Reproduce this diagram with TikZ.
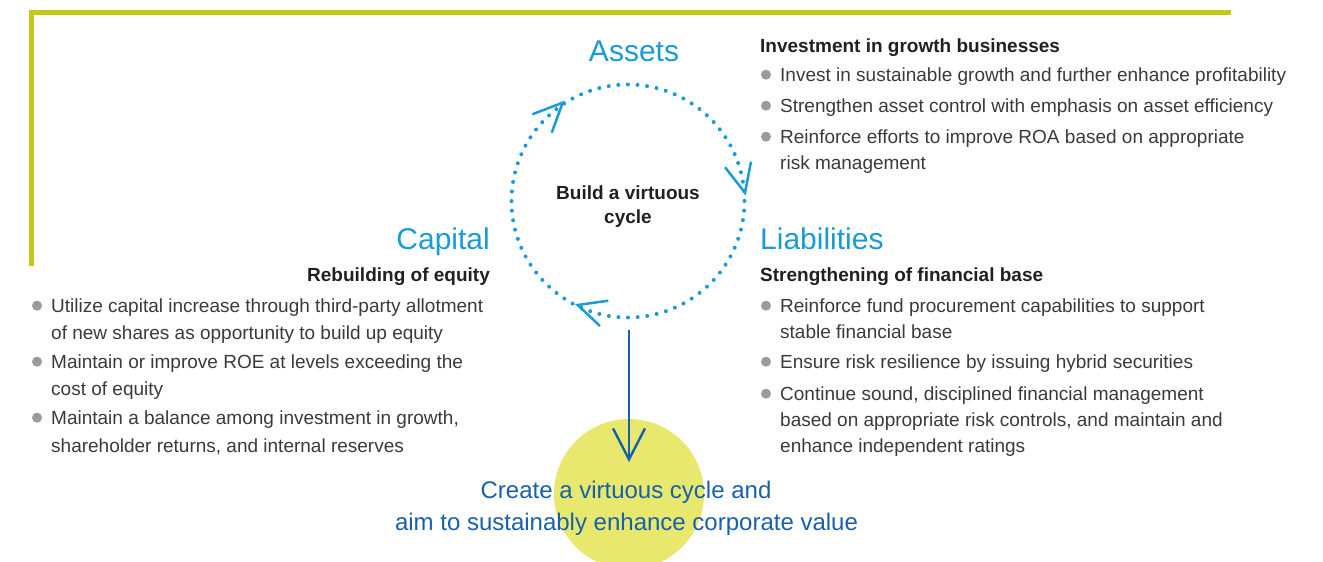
\documentclass[tikz,border=0pt]{standalone}
\usepackage{fontspec}
\setmainfont{Liberation Sans}
\usetikzlibrary{arrows.meta}

\definecolor{framegreen}{HTML}{C5C818}
\definecolor{cyclecyan}{HTML}{1A9AD6}
\definecolor{goalblue}{HTML}{1760AA}
\definecolor{goalyellow}{HTML}{E8E86E}
\definecolor{bodygray}{HTML}{3A3A3A}
\definecolor{headblack}{HTML}{231F20}
\definecolor{bulletgray}{HTML}{9B9B9B}

\tikzset{
  title/.style={font=\fontsize{30}{36}\selectfont, text=cyclecyan, inner sep=0pt},
  head/.style={font=\bfseries\fontsize{19}{23}\selectfont, text=headblack, inner sep=0pt},
  body/.style={font=\fontsize{19}{23}\selectfont, text=bodygray, inner sep=0pt, anchor=base west},
  bullet/.style={circle, fill=bulletgray, inner sep=0pt, minimum size=10pt},
  goaltext/.style={font=\fontsize{24}{30}\selectfont, text=goalblue, inner sep=0pt, anchor=base},
  cycleline/.style={draw=cyclecyan, line width=4pt, line cap=round,
    dash pattern=on 0pt off 9.63pt},
  cyclehead/.style={draw=cyclecyan, line width=2.5pt, line cap=butt, line join=miter},
}

\begin{document}
\begin{tikzpicture}[x=1pt, y=-1pt]
  \useasboundingbox (0,0) rectangle (1323,562);
  \clip (0,0) rectangle (1323,562);

  % frame line along top and left
  \draw[framegreen, line width=5pt] (31,266) -- (31,12.5) -- (1231,12.5);

  % goal disc
  \fill[goalyellow] (629,494) circle[radius=75];

  % the cycle, dotted, running clockwise
  \node[circle, minimum size=233pt, inner sep=0pt] (cycle) at (628,201) {};
  \draw[cycleline] (cycle.center) circle[radius=116.5];

  % open arrowheads on the cycle
  \coordinate (tipA) at (562.7,102.7);
  \coordinate (tipL) at (745,192.7);
  \coordinate (tipC) at (577.7,305);
  \draw[cyclehead] (532.3,114.3) -- (tipA) -- (551.7,132.7);
  \draw[cyclehead] (725,167.3) -- (tipL) -- (751,161.7);
  \draw[cyclehead] (608.3,300.7) -- (tipC) -- (600,326);

  \node[font=\bfseries\fontsize{19}{24}\selectfont, text=headblack, align=center, inner sep=0pt]
    (centre) at (628,207) {Build a virtuous\\cycle};

  % section titles
  \node[title, anchor=base] (assets) at (634,61) {Assets};
  \node[title, anchor=base west] (liab) at (760,249) {Liabilities};
  \node[title, anchor=base east] (capital) at (490,249) {Capital};

  % Assets column
  \node[head, anchor=base west] (hA) at (760,52.5) {Investment in growth businesses};
  \node[body] (a1) at (780,81.5) {Invest in sustainable growth and further enhance profitability};
  \node[body] (a2) at (780,112.5) {Strengthen asset control with emphasis on asset efficiency};
  \node[body] (a3) at (780,143.5) {Reinforce efforts to improve ROA based on appropriate};
  \node[body] (a3b) at (780,169.5) {risk management};
  \foreach \n in {a1,a2,a3}
    \node[bullet] (\n dot) at ([xshift=-14pt, yshift=6.8pt]\n.base west) {};

  % Liabilities column
  \node[head, anchor=base west] (hL) at (760,281.5) {Strengthening of financial base};
  \node[body] (l1) at (780,312.5) {Reinforce fund procurement capabilities to support};
  \node[body] (l1b) at (780,338.5) {stable financial base};
  \node[body] (l2) at (780,368.5) {Ensure risk resilience by issuing hybrid securities};
  \node[body] (l3) at (780,400.5) {Continue sound, disciplined financial management};
  \node[body] (l3b) at (780,426.5) {based on appropriate risk controls, and maintain and};
  \node[body] (l3c) at (780,452.5) {enhance independent ratings};
  \foreach \n in {l1,l2,l3}
    \node[bullet] (\n dot) at ([xshift=-14pt, yshift=6.8pt]\n.base west) {};

  % Capital column
  \node[head, anchor=base east] (hC) at (490,281.5) {Rebuilding of equity};
  \node[body] (c1) at (51,312.5) {Utilize capital increase through third-party allotment};
  \node[body] (c1b) at (51,339.5) {of new shares as opportunity to build up equity};
  \node[body] (c2) at (51,368.5) {Maintain or improve ROE at levels exceeding the};
  \node[body] (c2b) at (51,395.5) {cost of equity};
  \node[body] (c3) at (51,424.5) {Maintain a balance among investment in growth,};
  \node[body] (c3b) at (51,452.5) {shareholder returns, and internal reserves};
  \foreach \n in {c1,c2,c3}
    \node[bullet] (\n dot) at ([xshift=-14pt, yshift=6.8pt]\n.base west) {};

  % goal statement
  \node[goaltext] (goal1) at (626,498.6) {Create a virtuous cycle and};
  \node[goaltext] (goal2) at (626.5,530.6) {aim to sustainably enhance corporate value};

  % arrow from the cycle down to the goal
  \coordinate (goaltip) at (629,462);
  \draw[goalblue, line width=2.4pt, shorten <=12.5pt,
        -{Straight Barb[length=31pt, width=32pt, line width=2.4pt]}]
    (cycle.south -| goaltip) -- (goaltip);
\end{tikzpicture}
\end{document}
